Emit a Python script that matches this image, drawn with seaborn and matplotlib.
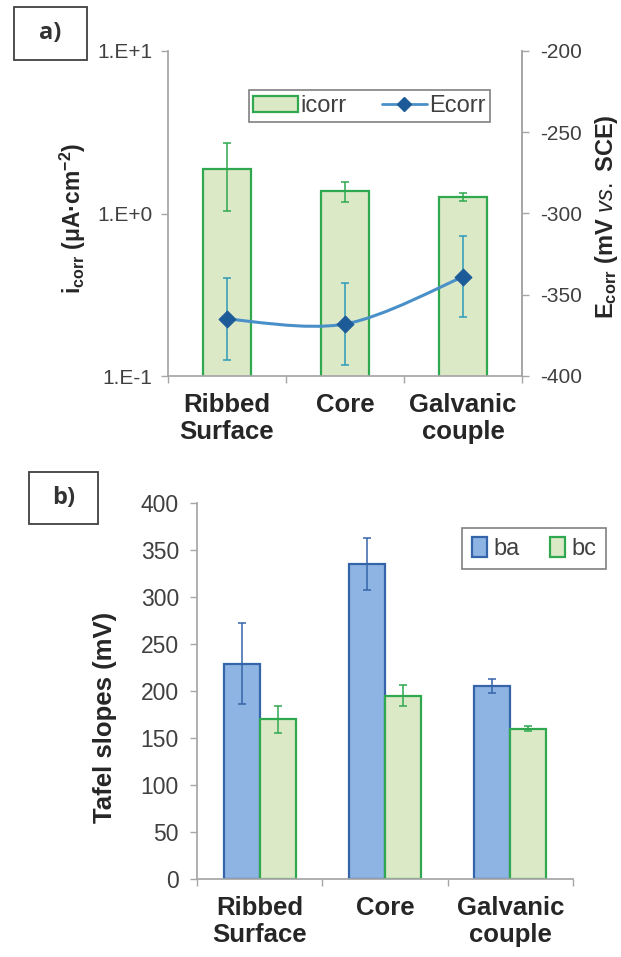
import numpy as np
import pandas as pd
import matplotlib
matplotlib.use("Agg")
import matplotlib.pyplot as plt
from matplotlib.patches import Patch, Rectangle, PathPatch
from matplotlib.lines import Line2D
from matplotlib.path import Path
import seaborn as sns

# ----------------------------------------
# data
# ----------------------------------------
sites = ["Ribbed\nSurface", "Core", "Galvanic\ncouple"]

icorr = [1.87, 1.37, 1.26]          # uA/cm2
icorr_err = [0.83, 0.20, 0.07]
ecorr = [-365, -368, -339]          # mV vs SCE
ecorr_err = [25, 25, 25]

ba = [229, 335, 205]                # mV
ba_err = [43, 28, 7.5]
bc = [170, 195, 160]
bc_err = [14.5, 11, 2.5]

# colours
green_fill = "#dce9c6"
green_edge = "#2fa84f"
blue_fill = "#8db4e2"
blue_edge = "#3565a8"
line_blue = "#4a90c8"
marker_blue = "#1d5b98"
ecorr_err_col = "#2f9ab8"
spine_col = "#a6a6a6"
tick_col = "#404040"
label_col = "#262626"

sns.set_theme(style="white")
plt.rcParams['font.family'] = ['Liberation Sans', 'DejaVu Sans']
plt.rcParams['axes.unicode_minus'] = False
plt.rcParams['mathtext.fontset'] = 'custom'
plt.rcParams['mathtext.rm'] = 'Liberation Sans'
plt.rcParams['mathtext.it'] = 'Liberation Sans:italic'
plt.rcParams['mathtext.bf'] = 'Liberation Sans:bold'

W, H = 621, 957
fig = plt.figure(figsize=(W / 100, H / 100), dpi=100)


def px_axes(l, t, r, b):
    return fig.add_axes([l / W, 1 - b / H, (r - l) / W, (b - t) / H])


def style_cat_axis(ax, fs):
    ax.set_xlim(-0.5, 2.5)
    ax.set_xticks([0, 1, 2])
    ax.set_xticklabels(sites, fontweight="bold", fontsize=18.5,
                       color=label_col, linespacing=1.15)
    ax.set_xticks([-0.5, 0.5, 1.5, 2.5], minor=True)
    ax.tick_params(axis="x", which="major", length=0, pad=12)
    ax.tick_params(axis="x", which="minor", length=5, width=1,
                   color=spine_col, direction="out", bottom=True)
    ax.tick_params(axis="y", which="major", length=5, width=1,
                   color=spine_col, labelsize=fs, labelcolor=tick_col,
                   direction="out", left=True)
    ax.set_xlabel("")
    ax.set_ylabel("")


# ----------------------------------------
# a) icorr bars + Ecorr line
# ----------------------------------------
ax = px_axes(168, 51, 522, 376)
ax.set_yscale("log")
sns.barplot(x=sites, y=icorr, ax=ax, width=0.415, color=green_fill,
            edgecolor=green_edge, linewidth=1.6, saturation=1, errorbar=None)
ax.set_ylim(0.1, 10)
ax.set_yticks([0.1, 1, 10])
ax.set_yticklabels(["1.E-1", "1.E+0", "1.E+1"])
ax.yaxis.set_minor_locator(matplotlib.ticker.NullLocator())
style_cat_axis(ax, 15)
ax.tick_params(axis="y", pad=6)

centers = [p.get_x() + p.get_width() / 2 for p in ax.patches]
ax.errorbar(centers, icorr, yerr=icorr_err, fmt="none", ecolor=green_edge,
            elinewidth=1.1, capsize=3, capthick=1.1)

for side in ["left", "bottom", "right"]:
    ax.spines[side].set_color(spine_col)
ax.spines["top"].set_visible(False)

ax2 = ax.twinx()
ax2.set_ylim(-400, -200)
ax2.set_yticks(np.arange(-400, -199, 50))
ax2.tick_params(axis="y", length=5, width=1, color=spine_col, right=True,
                labelsize=15, labelcolor=tick_col, direction="out", pad=8)
for side in ["left", "bottom", "top"]:
    ax2.spines[side].set_visible(False)
ax2.spines["right"].set_color(spine_col)

# smoothed line through the Ecorr points (Excel-style smoothing)
pts = np.column_stack([centers, ecorr]).astype(float)
verts = [tuple(pts[0])]
codes = [Path.MOVETO]
for i in range(len(pts) - 1):
    p0 = pts[i - 1] if i > 0 else pts[i]
    p1, p2 = pts[i], pts[i + 1]
    p3 = pts[i + 2] if i + 2 < len(pts) else pts[i + 1]
    verts += [tuple(p1 + (p2 - p0) / 6), tuple(p2 - (p3 - p1) / 6), tuple(p2)]
    codes += [Path.CURVE4] * 3
ax2.add_patch(PathPatch(Path(verts, codes), facecolor="none",
                        edgecolor=line_blue, linewidth=2.2, zorder=2))
ax2.errorbar(centers, ecorr, yerr=ecorr_err, fmt="none", ecolor=ecorr_err_col,
             elinewidth=1.1, capsize=3, capthick=1.1, zorder=2)
sns.scatterplot(x=centers, y=ecorr, ax=ax2, marker="D", s=75,
                color=marker_blue, edgecolor=marker_blue, zorder=3, legend=False)
ax2.set_xlim(-0.5, 2.5)
ax2.set_xlabel("")
ax2.set_ylabel("")

leg_a = fig.legend(
    handles=[Patch(facecolor=green_fill, edgecolor=green_edge, linewidth=1.6),
             Line2D([], [], color=line_blue, lw=2, marker="D", markersize=7,
                    markerfacecolor=marker_blue, markeredgecolor=marker_blue)],
    labels=["icorr", "Ecorr"], ncol=2, loc="center",
    bbox_to_anchor=(369.5 / W, 1 - 106 / H), fontsize=17, frameon=True,
    fancybox=False, edgecolor="#808080", framealpha=1, handlelength=1.9,
    handleheight=0.65, handletextpad=0.1, columnspacing=1.5, borderpad=0.2,
    borderaxespad=0)
leg_a.get_frame().set_linewidth(1.2)
for t in leg_a.get_texts():
    t.set_color(tick_col)

fig.text(73 / W, 1 - 218 / H, r"i$_{\mathbf{corr}}$ (μA·cm$^{\mathbf{-2}}$)",
         rotation=90, ha="center", va="center", fontsize=16.5,
         fontweight="bold", color=label_col)
fig.text(607 / W, 1 - 217 / H, r"E$_{\mathbf{corr}}$ (mV $\mathit{vs.}$ SCE)",
         rotation=90, ha="center", va="center", fontsize=17,
         fontweight="bold", color=label_col)

# ----------------------------------------
# b) Tafel slopes
# ----------------------------------------
tafel = pd.DataFrame({
    "site": sites * 2,
    "slope": ba + bc,
    "kind": ["ba"] * 3 + ["bc"] * 3,
})
errs = {"ba": ba_err, "bc": bc_err}
fills = {"ba": blue_fill, "bc": green_fill}
edges = {"ba": blue_edge, "bc": green_edge}

bx = px_axes(197, 503, 573, 879)
sns.barplot(data=tafel, x="site", y="slope", hue="kind", ax=bx, width=0.575,
            gap=0, palette=fills, saturation=1, errorbar=None,
            linewidth=1.6, legend=False)
for kind, cont in zip(["ba", "bc"], bx.containers):
    xs = []
    for bar in cont:
        bar.set_edgecolor(edges[kind])
        xs.append(bar.get_x() + bar.get_width() / 2)
    bx.errorbar(xs, [b.get_height() for b in cont], yerr=errs[kind],
                fmt="none", ecolor=edges[kind], elinewidth=1.1,
                capsize=3, capthick=1.1)

bx.set_ylim(0, 400)
bx.set_yticks(np.arange(0, 401, 50))
style_cat_axis(bx, 16.5)
bx.tick_params(axis="y", pad=8)
for side in ["left", "bottom"]:
    bx.spines[side].set_color(spine_col)
for side in ["top", "right"]:
    bx.spines[side].set_visible(False)

leg_b = fig.legend(
    handles=[Patch(facecolor=blue_fill, edgecolor=blue_edge, linewidth=1.6),
             Patch(facecolor=green_fill, edgecolor=green_edge, linewidth=1.6)],
    labels=["ba", "bc"], ncol=2, loc="center",
    bbox_to_anchor=(534 / W, 1 - 548.5 / H), fontsize=17, frameon=True,
    fancybox=False, edgecolor="#808080", framealpha=1, handlelength=0.65,
    handleheight=0.9, handletextpad=0.25, columnspacing=1.3, borderpad=0.4,
    borderaxespad=0)
leg_b.get_frame().set_linewidth(1.2)
for t in leg_b.get_texts():
    t.set_color(tick_col)

fig.text(105 / W, 1 - 717 / H, "Tafel slopes (mV)", rotation=90,
         ha="center", va="center", fontsize=18.5, fontweight="bold",
         color=label_col)

# ----------------------------------------
# panel tags
# ----------------------------------------
for tag, (l, t, r, b) in [("a)", (14, 7, 87, 60)), ("b)", (29, 472, 98, 524))]:
    fig.patches.append(Rectangle((l / W, 1 - b / H), (r - l) / W, (b - t) / H,
                                 transform=fig.transFigure, facecolor="white",
                                 edgecolor="#404040", linewidth=1.3))
    fig.text((l + r) / 2 / W, 1 - (t + b) / 2 / H, tag, ha="center",
             va="center", fontsize=17, fontweight="bold", color="#333333",
             family=["Open Sans", "DejaVu Sans"])

fig.savefig("out.png", dpi=100)
